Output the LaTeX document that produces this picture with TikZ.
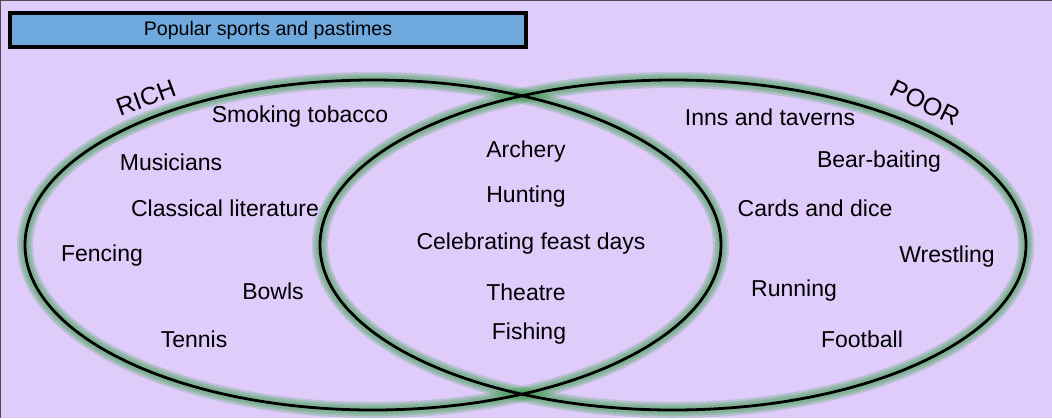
\documentclass[tikz,border=0pt]{standalone}
\usepackage{fontspec}
\setmainfont{Liberation Sans}
\usetikzlibrary{positioning, calc}
\definecolor{lilac}{HTML}{DFCCFB}
\definecolor{titleblue}{HTML}{6FA8DC}
\definecolor{glow}{HTML}{2F9A3E}
\begin{document}
\begin{tikzpicture}[x=0.5pt, y=-0.5pt,
		item/.style={font=\fontsize{11.5}{13}\selectfont, inner sep=0pt},
		tag/.style={font=\fontsize{12.5}{14}\selectfont, inner sep=0pt},
		ring/.style={draw=black, line width=1.4pt},
		halo/.style={draw=glow, line width=#1, opacity=0.22}]
		\fill[lilac] (0,0) rectangle (1052,418);
		\useasboundingbox (0,0) rectangle (1052,418);
		\draw[line width=0.8pt, black!70] (0,418) -- (0,0) -- (1052,0);
		\node[draw, line width=1.6pt, fill=titleblue, minimum width=258pt, minimum height=17pt, inner sep=0pt] (title) at (268,30) {};
		\node[font=\fontsize{9.8}{11}\selectfont] at (268,30) {Popular sports and pastimes};
		% the two circles
		\coordinate (L) at (373,245); \coordinate (R) at (673,245);
		\foreach \w in {8pt,6pt,4pt} {
			\draw[halo=\w] (L) ellipse [x radius=348, y radius=165];
			\draw[halo=\w] (R) ellipse [x radius=353, y radius=165];
		}
		\draw[ring] (L) ellipse [x radius=348, y radius=165];
		\draw[ring] (R) ellipse [x radius=353, y radius=165];
		\node[tag, rotate=20] (rich) at (146,98) {RICH};
		\node[tag, rotate=-26] (poor) at (925,103) {POOR};
		% rich only
		\node[item] (smoke) at (300,117) {Smoking tobacco};
		\node[item] (music) at (171,162) {Musicians};
		\node[item] (lit) at (225,208) {Classical literature};
		\node[item] (fence) at (102,256) {Fencing};
		\node[item] (bowls) at (273,291) {Bowls};
		\node[item] (tennis) at (194,339) {Tennis};
		% both
		\node[item] (arch) at (526,152) {Archery};
		\node[item] (hunt) at (526,197) {Hunting};
		\node[item] (feast) at (531,244) {Celebrating feast days};
		\node[item] (theat) at (526,292) {Theatre};
		\node[item] (fish) at (529,334) {Fishing};
		% poor only
		\node[item] (inns) at (770,117) {Inns and taverns};
		\node[item] (bear) at (879,162) {Bear-baiting};
		\node[item] (cards) at (815,208) {Cards and dice};
		\node[item] (wrest) at (947,257) {Wrestling};
		\node[item] (run) at (794,291) {Running};
		\node[item] (foot) at (862,339) {Football};
	\end{tikzpicture}
\end{document}
